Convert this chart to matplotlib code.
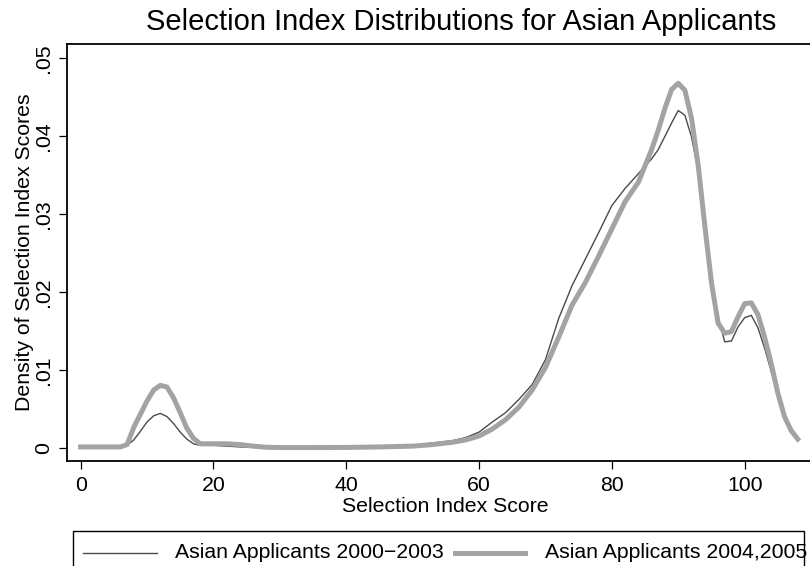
import matplotlib
matplotlib.use("Agg")
import matplotlib.pyplot as plt
from matplotlib.lines import Line2D
from matplotlib.patches import Rectangle

plt.rcParams['font.family'] = ['Liberation Sans', 'DejaVu Sans']

# selection index score grid where the kernel densities were evaluated
score = [0, 2, 4, 6, 7, 8, 9, 10, 11, 12, 13, 14, 15, 16, 17, 18, 20, 22, 24,
         26, 28, 30, 35, 40, 45, 50, 53, 56, 58, 60, 62, 64, 66, 68, 70, 72,
         74, 76, 78, 80, 82, 84, 86, 87, 88, 89, 90, 91, 92, 93, 94, 95, 96,
         97, 98, 99, 100, 101, 102, 103, 104, 105, 106, 107, 108]

dens_0003 = [0.0001, 0.0001, 0.0001, 0.0001, 0.0003, 0.0010, 0.0021, 0.0033,
             0.0041, 0.0044, 0.0040, 0.0031, 0.0020, 0.0011, 0.0005, 0.0003,
             0.0003, 0.0002, 0.0001, 0.00005, 0.00002, 0.00002, 0.00002,
             0.00003, 0.0001, 0.0003, 0.0006, 0.0009, 0.0013, 0.0020, 0.0033,
             0.0045, 0.0062, 0.0081, 0.0113, 0.0166, 0.0208, 0.0242, 0.0276,
             0.0311, 0.0333, 0.0352, 0.0371, 0.0383, 0.0400, 0.0417, 0.0433,
             0.0427, 0.0399, 0.0355, 0.0290, 0.0222, 0.0168, 0.0136, 0.0137,
             0.0155, 0.0167, 0.0170, 0.0154, 0.0128, 0.0098, 0.0066, 0.0038,
             0.0022, 0.0011]

dens_0405 = [0.0001, 0.0001, 0.0001, 0.0001, 0.0004, 0.0026, 0.0043, 0.0060,
             0.0074, 0.0080, 0.0078, 0.0064, 0.0045, 0.0025, 0.0012, 0.0005,
             0.0005, 0.0005, 0.0004, 0.0002, 0.00005, 0.00002, 0.00002,
             0.00003, 0.0001, 0.0002, 0.0004, 0.0007, 0.0010, 0.0015, 0.0024,
             0.0036, 0.0052, 0.0074, 0.0103, 0.0142, 0.0183, 0.0212, 0.0246,
             0.0281, 0.0316, 0.0341, 0.0383, 0.0408, 0.0436, 0.0460, 0.0468,
             0.0459, 0.0423, 0.0363, 0.0285, 0.0212, 0.0160, 0.0147, 0.0149,
             0.0168, 0.0185, 0.0186, 0.0171, 0.0142, 0.0108, 0.0070, 0.0040,
             0.0022, 0.0011]

x_ticks = [0, 20, 40, 60, 80, 100]
y_ticks = [0, 0.01, 0.02, 0.03, 0.04, 0.05]
y_tick_labels = ['0', '.01', '.02', '.03', '.04', '.05']
series_labels = ['Asian Applicants 2000\u22122003', 'Asian Applicants 2004,2005']

thin_color = '#4a4a4a'
thick_color = '#a3a3a3'

fig = plt.figure(figsize=(8.1, 5.66), dpi=100)
ax = fig.add_axes([0.0823, 0.1855, 0.9354, 0.7367])

ax.plot(score, dens_0003, color=thin_color, lw=1.0)
ax.plot(score, dens_0405, color=thick_color, lw=3.6)

ax.set_xlim(-2.1, 112)
ax.set_ylim(-0.00171, 0.05184)
ax.set_xticks(x_ticks)
ax.set_yticks(y_ticks)
ax.set_yticklabels(y_tick_labels, rotation=90, va='center')
ax.tick_params(axis='both', labelsize=15.3, length=6, width=0.9, pad=5)
ax.tick_params(axis='y', pad=4)
for sp in ax.spines.values():
    sp.set_linewidth(1.3)

ax.set_xlabel('Selection Index Score', fontsize=15.3, labelpad=1)
ax.set_ylabel('Density of Selection Index Scores', fontsize=15.3, labelpad=0)
fig.text(0.569, 0.962, 'Selection Index Distributions for Asian Applicants',
         fontsize=21, ha='center', va='center')

# legend box below the plot
W, H = 810.0, 566.0
fig.patches.append(Rectangle((73.3 / W, -20 / H), (804 - 73.3) / W, (566 - 530.7 + 20) / H,
                             transform=fig.transFigure, fill=False, lw=1.0, ec='black'))
fig.lines.append(Line2D([83 / W, 157 / W], [1 - 553 / H, 1 - 553 / H],
                        transform=fig.transFigure, color=thin_color, lw=1.0))
fig.text(175 / W, 1 - 553 / H, series_labels[0], fontsize=15.3, va='center')
fig.lines.append(Line2D([455 / W, 525 / W], [1 - 553 / H, 1 - 553 / H],
                        transform=fig.transFigure, color=thick_color, lw=3.6))
fig.text(545 / W, 1 - 553 / H, series_labels[1], fontsize=15.3, va='center')

fig.savefig('out.png', dpi=100)
